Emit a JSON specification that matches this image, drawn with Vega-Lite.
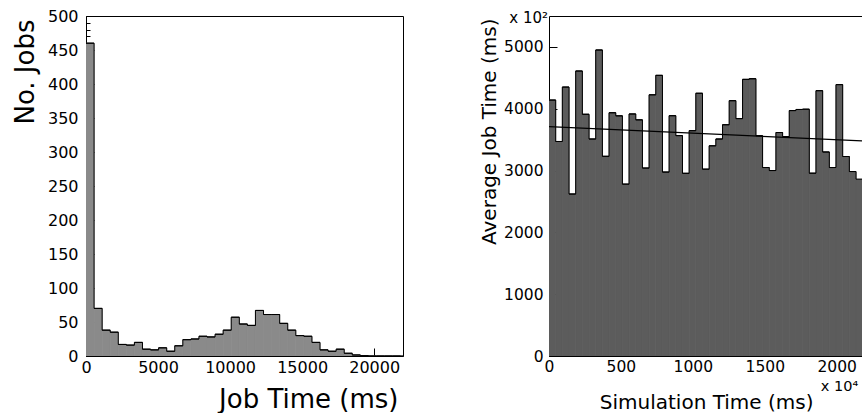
{
  "$schema": "https://vega.github.io/schema/vega-lite/v6.json",
  "autosize": {"type": "pad"},
  "padding": {"left": 11, "top": 7, "right": 0, "bottom": 0},
  "background": "white",
  "bounds": "flush",
  "spacing": 146,
  "config": {
    "view": {"stroke": "black", "strokeWidth": 1},
    "font": "DejaVu Sans",
    "axis": {
      "grid": false,
      "domainColor": "black",
      "tickColor": "black",
      "labelColor": "black",
      "titleColor": "black",
      "labelFont": "DejaVu Sans",
      "titleFont": "DejaVu Sans",
      "titleFontWeight": "normal",
      "labelFlush": false,
      "labelOverlap": false,
      "tickWidth": 1,
      "domainWidth": 1
    }
  },
  "datasets": {
    "jobs": [
      {"start": 0, "end": 560, "count": 460},
      {"start": 560, "end": 1120, "count": 70},
      {"start": 1120, "end": 1680, "count": 38},
      {"start": 1680, "end": 2240, "count": 35},
      {"start": 2240, "end": 2800, "count": 17},
      {"start": 2800, "end": 3360, "count": 16},
      {"start": 3360, "end": 3920, "count": 20},
      {"start": 3920, "end": 4480, "count": 10},
      {"start": 4480, "end": 5040, "count": 9},
      {"start": 5040, "end": 5600, "count": 12},
      {"start": 5600, "end": 6160, "count": 7},
      {"start": 6160, "end": 6720, "count": 15},
      {"start": 6720, "end": 7280, "count": 24},
      {"start": 7280, "end": 7840, "count": 25},
      {"start": 7840, "end": 8400, "count": 29},
      {"start": 8400, "end": 8960, "count": 28},
      {"start": 8960, "end": 9520, "count": 32},
      {"start": 9520, "end": 10080, "count": 38},
      {"start": 10080, "end": 10640, "count": 57},
      {"start": 10640, "end": 11200, "count": 47},
      {"start": 11200, "end": 11760, "count": 45},
      {"start": 11760, "end": 12320, "count": 67},
      {"start": 12320, "end": 12880, "count": 61},
      {"start": 12880, "end": 13440, "count": 61},
      {"start": 13440, "end": 14000, "count": 48},
      {"start": 14000, "end": 14560, "count": 38},
      {"start": 14560, "end": 15120, "count": 30},
      {"start": 15120, "end": 15680, "count": 29},
      {"start": 15680, "end": 16240, "count": 20},
      {"start": 16240, "end": 16800, "count": 9},
      {"start": 16800, "end": 17360, "count": 7},
      {"start": 17360, "end": 17920, "count": 10},
      {"start": 17920, "end": 18480, "count": 4},
      {"start": 18480, "end": 19040, "count": 1.5},
      {"start": 19040, "end": 19600, "count": 0.5},
      {"start": 19600, "end": 20160, "count": 0},
      {"start": 20160, "end": 20720, "count": 0},
      {"start": 20720, "end": 21280, "count": 0},
      {"start": 21280, "end": 21840, "count": 0},
      {"start": 21840, "end": 22400, "count": 0}
    ],
    "avg": [
      {"start": 0, "end": 46.4, "value": 4140},
      {"start": 46.4, "end": 92.8, "value": 3470},
      {"start": 92.8, "end": 139.2, "value": 4350},
      {"start": 139.2, "end": 185.6, "value": 2620},
      {"start": 185.6, "end": 232, "value": 4610},
      {"start": 232, "end": 278.4, "value": 3910},
      {"start": 278.4, "end": 324.8, "value": 3510},
      {"start": 324.8, "end": 371.2, "value": 4950},
      {"start": 371.2, "end": 417.6, "value": 3230},
      {"start": 417.6, "end": 464, "value": 3935},
      {"start": 464, "end": 510.4, "value": 3885},
      {"start": 510.4, "end": 556.8, "value": 2780},
      {"start": 556.8, "end": 603.2, "value": 3915},
      {"start": 603.2, "end": 649.6, "value": 3820},
      {"start": 649.6, "end": 696, "value": 3040},
      {"start": 696, "end": 742.4, "value": 4225},
      {"start": 742.4, "end": 788.8, "value": 4540},
      {"start": 788.8, "end": 835.2, "value": 2975},
      {"start": 835.2, "end": 881.6, "value": 3887},
      {"start": 881.6, "end": 928, "value": 3565},
      {"start": 928, "end": 974.4, "value": 2955},
      {"start": 974.4, "end": 1020.8, "value": 3645},
      {"start": 1020.8, "end": 1067.2, "value": 4250},
      {"start": 1067.2, "end": 1113.6, "value": 3022},
      {"start": 1113.6, "end": 1160, "value": 3400},
      {"start": 1160, "end": 1206.4, "value": 3510},
      {"start": 1206.4, "end": 1252.8, "value": 3741},
      {"start": 1252.8, "end": 1299.2, "value": 4130},
      {"start": 1299.2, "end": 1345.6, "value": 3840},
      {"start": 1345.6, "end": 1392, "value": 4475},
      {"start": 1392, "end": 1438.4, "value": 4485},
      {"start": 1438.4, "end": 1484.8, "value": 3563},
      {"start": 1484.8, "end": 1531.2, "value": 3049},
      {"start": 1531.2, "end": 1577.6, "value": 3000},
      {"start": 1577.6, "end": 1624, "value": 3615},
      {"start": 1624, "end": 1670.4, "value": 3548},
      {"start": 1670.4, "end": 1716.8, "value": 3970},
      {"start": 1716.8, "end": 1763.2, "value": 3988},
      {"start": 1763.2, "end": 1809.6, "value": 3992},
      {"start": 1809.6, "end": 1856, "value": 2957},
      {"start": 1856, "end": 1902.4, "value": 4292},
      {"start": 1902.4, "end": 1948.8, "value": 3300},
      {"start": 1948.8, "end": 1995.2, "value": 3049},
      {"start": 1995.2, "end": 2041.6, "value": 4390},
      {"start": 2041.6, "end": 2088, "value": 3227},
      {"start": 2088, "end": 2134.4, "value": 2984},
      {"start": 2134.4, "end": 2180.8, "value": 2860}
    ],
    "fit": [
      {"start": 0, "value": 3710},
      {"start": 2176, "value": 3480}
    ]
  },
  "hconcat": [
    {
      "width": 317,
      "height": 340,
      "data": {"name": "jobs"},
      "encoding": {
        "x": {
          "field": "start",
          "type": "quantitative",
          "scale": {"domain": [0, 22000], "nice": false, "zero": false},
          "axis": {
            "values": [0, 5000, 10000, 15000, 20000],
            "format": "d",
            "tickSize": -8,
            "labelPadding": 11,
            "labelFontSize": 16,
            "labelOverlap": false,
            "title": "Job Time (ms)",
            "titleFontSize": 26,
            "titleX": 312,
            "titleY": 51,
            "titleAlign": "right",
            "titleBaseline": "alphabetic",
            "titleAnchor": "end"
          }
        },
        "y": {
          "field": "count",
          "type": "quantitative",
          "scale": {"domain": [0, 500], "nice": false},
          "axis": {
            "values": [0, 10, 20, 30, 40, 50, 60, 70, 80, 90, 100, 110, 120, 130, 140, 150, 160, 170, 180, 190, 200, 210, 220, 230, 240, 250, 260, 270, 280, 290, 300, 310, 320, 330, 340, 350, 360, 370, 380, 390, 400, 410, 420, 430, 440, 450, 460, 470, 480, 490, 500],
            "labelExpr": "datum.value % 50 === 0 ? datum.label : ''",
            "tickSize": {"condition": {"test": "datum.value % 50 === 0", "value": -8}, "value": -4},
            "labelPadding": 16,
            "labelFontSize": 16,
            "labelOverlap": false,
            "title": "No. Jobs",
            "titleFontSize": 26,
            "titleX": -53,
            "titleY": 3,
            "titleAlign": "right",
            "titleBaseline": "alphabetic",
            "titleAnchor": "end"
          }
        }
      },
      "layer": [
        {
          "mark": {"type": "rect", "fill": "#8a8a8a", "stroke": "#8a8a8a", "strokeWidth": 0.8, "clip": true},
          "encoding": {"x2": {"field": "end"}, "y2": {"datum": 0}}
        },
        {
          "mark": {"type": "rule", "color": "black", "strokeWidth": 1, "clip": true},
          "encoding": {"x2": {"field": "end"}}
        },
        {
          "mark": {"type": "line", "interpolate": "step-after", "color": "black", "strokeWidth": 1, "clip": true},
          "encoding": {}
        }
      ]
    },
    {
      "width": 313,
      "height": 340,
      "view": {"stroke": null},
      "resolve": {"axis": {"x": "independent"}},
      "layer": [
        {
          "data": {"name": "avg"},
          "encoding": {
            "x": {
              "field": "start",
              "type": "quantitative",
              "scale": {"domain": [0, 2176], "nice": false, "zero": false},
              "axis": {
                "values": [0, 500, 1000, 1500, 2000],
                "format": "d",
                "tickSize": -8,
                "labelPadding": 11,
                "labelFontSize": 15.5,
                "labelOverlap": false,
                "title": "Simulation Time (ms)",
                "titleFontSize": 20,
                "titleX": 264,
                "titleY": 52,
                "titleAlign": "right",
                "titleBaseline": "alphabetic",
                "titleAnchor": "end"
              }
            },
            "y": {
              "field": "value",
              "type": "quantitative",
              "scale": {"domain": [0, 5500], "nice": false},
              "axis": {
                "values": [0, 1000, 2000, 3000, 4000, 5000],
                "format": "d",
                "tickSize": -8,
                "labelPadding": 14,
                "labelFontSize": 15.5,
                "labelOverlap": false,
                "title": "Average Job Time (ms)",
                "titleFontSize": 20,
                "titleX": -54,
                "titleY": 2,
                "titleAlign": "right",
                "titleBaseline": "alphabetic",
                "titleAnchor": "end"
              }
            }
          },
          "layer": [
            {
              "mark": {"type": "rect", "fill": "#5c5c5c", "stroke": "#5c5c5c", "strokeWidth": 0.8, "clip": true},
              "encoding": {"x2": {"field": "end"}, "y2": {"datum": 0}}
            },
            {
              "mark": {"type": "rule", "color": "black", "strokeWidth": 1, "clip": true},
              "encoding": {"x2": {"field": "end"}}
            },
            {
              "mark": {"type": "line", "interpolate": "step-after", "color": "black", "strokeWidth": 1, "clip": true},
              "encoding": {}
            }
          ]
        },
        {
          "data": {"name": "fit"},
          "mark": {"type": "line", "color": "black", "strokeWidth": 1.2, "clip": true},
          "encoding": {
            "x": {"field": "start", "type": "quantitative", "axis": {"orient": "top", "labels": false, "ticks": false, "title": null, "domainColor": "black"}},
            "y": {"field": "value", "type": "quantitative"}
          }
        },
        {
          "data": {"values": [{}]},
          "mark": {"type": "text", "text": "x 10²", "fontSize": 15, "align": "right", "baseline": "middle", "dx": -1, "dy": 2, "color": "black", "font": "DejaVu Sans"},
          "encoding": {
            "x": {"datum": 0, "type": "quantitative", "axis": null},
            "y": {"datum": 5500, "type": "quantitative"}
          }
        },
        {
          "data": {"values": [{}]},
          "mark": {"type": "text", "text": "x 10⁴", "fontSize": 14.5, "align": "left", "baseline": "middle", "dy": 31, "color": "black", "font": "DejaVu Sans"},
          "encoding": {
            "x": {"datum": 1890, "type": "quantitative", "axis": null},
            "y": {"datum": 0, "type": "quantitative"}
          }
        }
      ]
    }
  ]
}
